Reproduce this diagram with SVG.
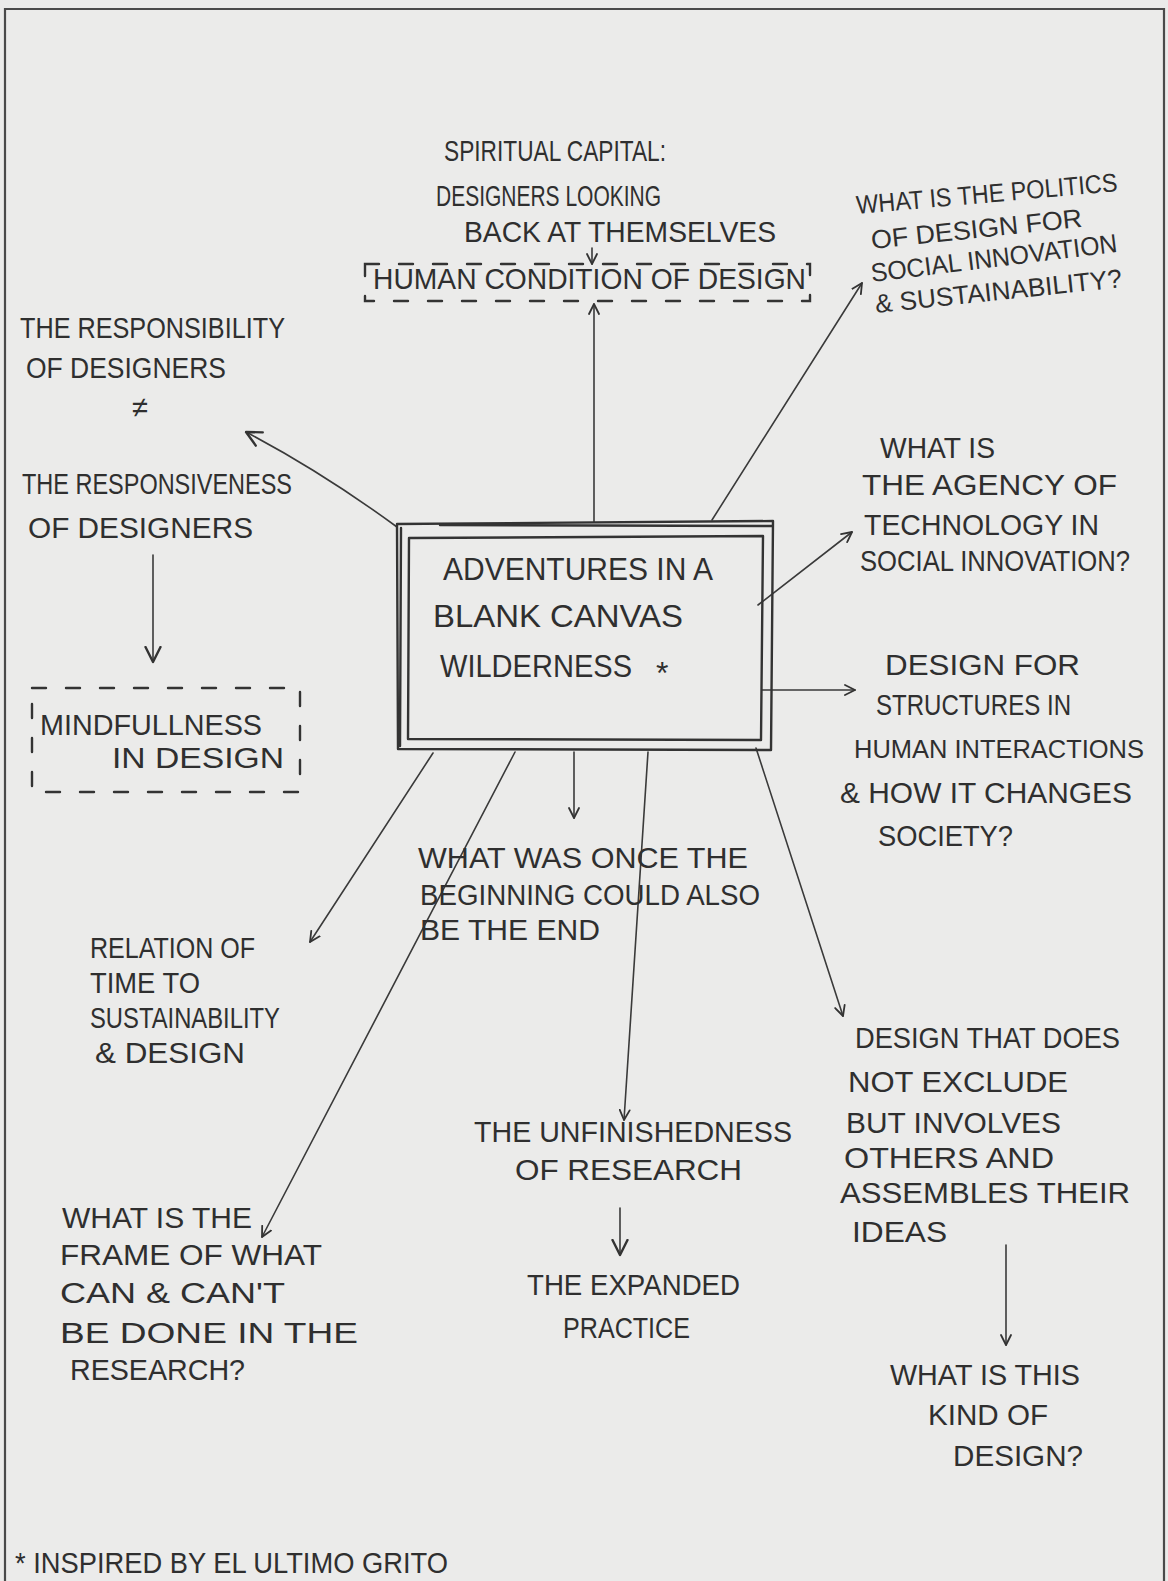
<svg xmlns="http://www.w3.org/2000/svg" width="1168" height="1581" viewBox="0 0 1168 1581">
  <defs>
    <style>
      .t { font-family: "Liberation Sans", "DejaVu Sans", sans-serif; font-size: 29px; fill: #2f2f2f; }
      .big { font-size: 32px; }
      .sm { font-size: 26px; }
      .ln { fill: none; stroke: #3a3a3a; stroke-width: 1.6; stroke-linecap: round; }
      .ink { fill: none; stroke: #333; stroke-width: 2.4; stroke-linecap: round; stroke-linejoin: round; }
      .dash { fill: none; stroke: #333; stroke-width: 2.4; stroke-dasharray: 14 20; stroke-linecap: round; }
    </style>
    <marker id="head" viewBox="0 0 12 12" refX="11" refY="6" markerWidth="12" markerHeight="12" markerUnits="userSpaceOnUse" orient="auto">
      <path d="M1,1 L11,6 L1,11" fill="none" stroke="#333" stroke-width="1.8" stroke-linecap="round" stroke-linejoin="round"/>
    </marker>
    <marker id="headL" viewBox="0 0 12 12" refX="11" refY="6" markerWidth="18" markerHeight="18" markerUnits="userSpaceOnUse" orient="auto">
      <path d="M1,1 L11,6 L1,11" fill="none" stroke="#333" stroke-width="1.6" stroke-linecap="round" stroke-linejoin="round"/>
    </marker>
  </defs>

  <!-- paper -->
  <rect x="0" y="0" width="1168" height="1581" fill="#ebebea"/>
  <path d="M5,1581 L5,9 L1164,9 L1164,1581" fill="none" stroke="#4a4a4a" stroke-width="2.2"/>

  <!-- connectors -->
  <g id="connectors">
    <line class="ln" x1="592" y1="248" x2="592" y2="264" marker-end="url(#head)"/>
    <line class="ln" x1="594" y1="522" x2="594" y2="304" marker-end="url(#head)"/>
    <line class="ln" x1="712" y1="520" x2="862" y2="283" marker-end="url(#head)"/>
    <path class="ln" d="M397,527 Q322,472 246,432" marker-end="url(#headL)"/>
    <line class="ln" x1="153" y1="555" x2="153" y2="662" marker-end="url(#headL)"/>
    <line class="ln" x1="758" y1="605" x2="852" y2="532" marker-end="url(#head)"/>
    <line class="ln" x1="762" y1="690" x2="855" y2="690" marker-end="url(#head)"/>
    <line class="ln" x1="574" y1="752" x2="574" y2="818" marker-end="url(#head)"/>
    <line class="ln" x1="433" y1="753" x2="310" y2="942" marker-end="url(#head)"/>
    <line class="ln" x1="515" y1="752" x2="262" y2="1237" marker-end="url(#head)"/>
    <path class="ln" d="M648,752 Q636,940 624,1120" marker-end="url(#head)"/>
    <line class="ln" x1="756" y1="748" x2="843" y2="1016" marker-end="url(#head)"/>
    <line class="ln" x1="620" y1="1208" x2="620" y2="1255" marker-end="url(#headL)"/>
    <line class="ln" x1="1006" y1="1245" x2="1006" y2="1345" marker-end="url(#head)"/>
  </g>

  <!-- central node: double hand-drawn frame -->
  <g id="node-adventures">
    <path class="ink" d="M397,524 L773,521 L771,750 L398,749 Z"/>
    <path class="ink" d="M401,528 L400,746 M440,525 L772,526" stroke-width="1.4"/>
    <path class="ink" d="M409,538 L763,536 L761,740 L408,739 Z" stroke-width="2"/>
    <text class="t big" x="443" y="580" textLength="270" lengthAdjust="spacingAndGlyphs">ADVENTURES IN A</text>
    <text class="t big" x="433" y="627" textLength="250" lengthAdjust="spacingAndGlyphs">BLANK CANVAS</text>
    <text class="t big" x="440" y="677" textLength="192" lengthAdjust="spacingAndGlyphs">WILDERNESS</text>
    <text class="t big" x="656" y="684" font-size="38">*</text>
  </g>

  <g id="node-spiritual">
    <text class="t" x="444" y="161" textLength="222" lengthAdjust="spacingAndGlyphs">SPIRITUAL CAPITAL:</text>
    <text class="t" x="436" y="206" textLength="225" lengthAdjust="spacingAndGlyphs">DESIGNERS LOOKING</text>
    <text class="t" x="464" y="242" textLength="312" lengthAdjust="spacingAndGlyphs">BACK AT THEMSELVES</text>
  </g>

  <g id="node-human">
    <rect class="dash" x="365" y="264" width="445" height="37"/>
    <text class="t" x="373" y="289" textLength="433" lengthAdjust="spacingAndGlyphs">HUMAN CONDITION OF DESIGN</text>
  </g>

  <g id="node-politics">
    <text class="t sm" x="857" y="214" textLength="262" lengthAdjust="spacingAndGlyphs" transform="rotate(-5 857 214)">WHAT IS THE POLITICS</text>
    <text class="t sm" x="872" y="249" textLength="212" lengthAdjust="spacingAndGlyphs" transform="rotate(-6 872 249)">OF DESIGN FOR</text>
    <text class="t sm" x="872" y="282" textLength="248" lengthAdjust="spacingAndGlyphs" transform="rotate(-7 872 282)">SOCIAL INNOVATION</text>
    <text class="t sm" x="876" y="313" textLength="248" lengthAdjust="spacingAndGlyphs" transform="rotate(-6 876 313)">&amp; SUSTAINABILITY?</text>
  </g>

  <g id="node-responsibility">
    <text class="t" x="20" y="338" textLength="265" lengthAdjust="spacingAndGlyphs">THE RESPONSIBILITY</text>
    <text class="t" x="26" y="378" textLength="200" lengthAdjust="spacingAndGlyphs">OF DESIGNERS</text>
    <text class="t" x="132" y="417" font-size="34">≠</text>
    <text class="t" x="22" y="494" textLength="270" lengthAdjust="spacingAndGlyphs">THE RESPONSIVENESS</text>
    <text class="t" x="28" y="538" textLength="225" lengthAdjust="spacingAndGlyphs">OF DESIGNERS</text>
  </g>

  <g id="node-mindfulness">
    <rect class="dash" x="32" y="688" width="268" height="104"/>
    <text class="t" x="40" y="735" textLength="222" lengthAdjust="spacingAndGlyphs">MINDFULLNESS</text>
    <text class="t" x="112" y="768" textLength="172" lengthAdjust="spacingAndGlyphs">IN DESIGN</text>
  </g>

  <g id="node-agency">
    <text class="t" x="880" y="458" textLength="115" lengthAdjust="spacingAndGlyphs">WHAT IS</text>
    <text class="t" x="862" y="495" textLength="255" lengthAdjust="spacingAndGlyphs">THE AGENCY OF</text>
    <text class="t" x="864" y="535" textLength="235" lengthAdjust="spacingAndGlyphs">TECHNOLOGY IN</text>
    <text class="t" x="860" y="571" textLength="270" lengthAdjust="spacingAndGlyphs">SOCIAL INNOVATION?</text>
  </g>

  <g id="node-structures">
    <text class="t" x="885" y="675" textLength="195" lengthAdjust="spacingAndGlyphs">DESIGN FOR</text>
    <text class="t" x="876" y="715" textLength="195" lengthAdjust="spacingAndGlyphs">STRUCTURES IN</text>
    <text class="t sm" x="854" y="758" textLength="290" lengthAdjust="spacingAndGlyphs">HUMAN INTERACTIONS</text>
    <text class="t" x="840" y="803" textLength="292" lengthAdjust="spacingAndGlyphs">&amp; HOW IT CHANGES</text>
    <text class="t" x="878" y="846" textLength="135" lengthAdjust="spacingAndGlyphs">SOCIETY?</text>
  </g>

  <g id="node-beginning">
    <text class="t" x="418" y="868" textLength="330" lengthAdjust="spacingAndGlyphs">WHAT WAS ONCE THE</text>
    <text class="t" x="420" y="905" textLength="340" lengthAdjust="spacingAndGlyphs">BEGINNING COULD ALSO</text>
    <text class="t" x="420" y="940" textLength="180" lengthAdjust="spacingAndGlyphs">BE THE END</text>
  </g>

  <g id="node-time">
    <text class="t" x="90" y="958" textLength="165" lengthAdjust="spacingAndGlyphs">RELATION OF</text>
    <text class="t" x="90" y="993" textLength="110" lengthAdjust="spacingAndGlyphs">TIME TO</text>
    <text class="t" x="90" y="1028" textLength="190" lengthAdjust="spacingAndGlyphs">SUSTAINABILITY</text>
    <text class="t" x="95" y="1063" textLength="150" lengthAdjust="spacingAndGlyphs">&amp; DESIGN</text>
  </g>

  <g id="node-unfinishedness">
    <text class="t" x="474" y="1142" textLength="318" lengthAdjust="spacingAndGlyphs">THE UNFINISHEDNESS</text>
    <text class="t" x="515" y="1180" textLength="227" lengthAdjust="spacingAndGlyphs">OF RESEARCH</text>
  </g>

  <g id="node-expanded">
    <text class="t" x="527" y="1295" textLength="213" lengthAdjust="spacingAndGlyphs">THE EXPANDED</text>
    <text class="t" x="563" y="1338" textLength="127" lengthAdjust="spacingAndGlyphs">PRACTICE</text>
  </g>

  <g id="node-frame">
    <text class="t" x="62" y="1228" textLength="190" lengthAdjust="spacingAndGlyphs">WHAT IS THE</text>
    <text class="t" x="60" y="1265" textLength="262" lengthAdjust="spacingAndGlyphs">FRAME OF WHAT</text>
    <text class="t" x="60" y="1303" textLength="225" lengthAdjust="spacingAndGlyphs">CAN &amp; CAN'T</text>
    <text class="t" x="60" y="1343" textLength="298" lengthAdjust="spacingAndGlyphs">BE DONE IN THE</text>
    <text class="t" x="70" y="1380" textLength="175" lengthAdjust="spacingAndGlyphs">RESEARCH?</text>
  </g>

  <g id="node-inclusive">
    <text class="t" x="855" y="1048" textLength="265" lengthAdjust="spacingAndGlyphs">DESIGN THAT DOES</text>
    <text class="t" x="848" y="1092" textLength="220" lengthAdjust="spacingAndGlyphs">NOT EXCLUDE</text>
    <text class="t" x="846" y="1133" textLength="215" lengthAdjust="spacingAndGlyphs">BUT INVOLVES</text>
    <text class="t" x="844" y="1168" textLength="210" lengthAdjust="spacingAndGlyphs">OTHERS AND</text>
    <text class="t" x="840" y="1203" textLength="290" lengthAdjust="spacingAndGlyphs">ASSEMBLES THEIR</text>
    <text class="t" x="852" y="1242" textLength="95" lengthAdjust="spacingAndGlyphs">IDEAS</text>
  </g>

  <g id="node-kind">
    <text class="t" x="890" y="1385" textLength="190" lengthAdjust="spacingAndGlyphs">WHAT IS THIS</text>
    <text class="t" x="928" y="1425" textLength="120" lengthAdjust="spacingAndGlyphs">KIND OF</text>
    <text class="t" x="953" y="1466" textLength="130" lengthAdjust="spacingAndGlyphs">DESIGN?</text>
  </g>

  <g id="footnote">
    <text class="t" x="15" y="1573" textLength="433" lengthAdjust="spacingAndGlyphs">* INSPIRED BY EL ULTIMO GRITO</text>
  </g>
</svg>
